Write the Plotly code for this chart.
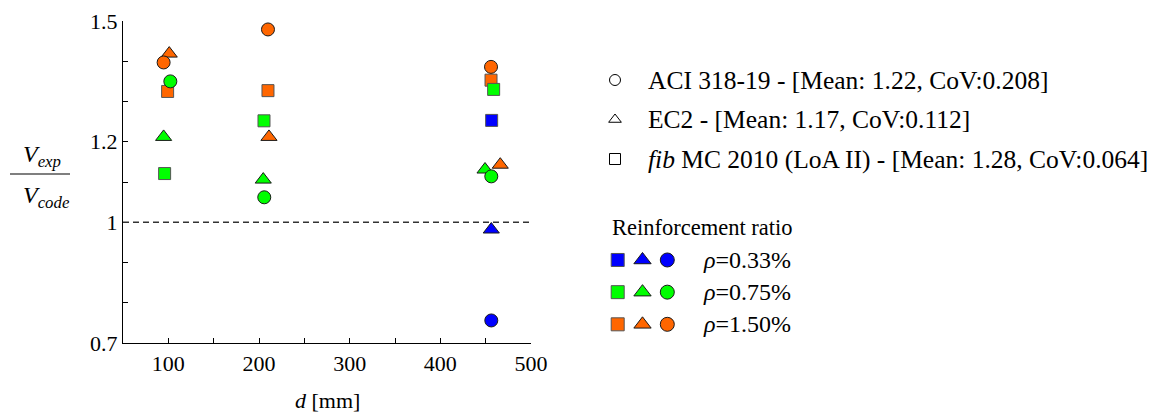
import plotly.graph_objects as go

# ---------------- data ----------------
ratio_labels = ["ρ=0.33%", "ρ=0.75%", "ρ=1.50%"]
ratio_texts = ["<i>ρ</i>=0.33%", "<i>ρ</i>=0.75%", "<i>ρ</i>=1.50%"]
ratio_colors = {"ρ=0.33%": "#0000FF", "ρ=0.75%": "#00FF00", "ρ=1.50%": "#FF6600"}

aci_d = [94.8, 102.2, 209.9, 205.8, 455.9, 456.2, 456.2]
aci_v = [1.397, 1.350, 1.479, 1.062, 1.386, 1.114, 0.756]
aci_r = ["ρ=1.50%", "ρ=0.75%", "ρ=1.50%", "ρ=0.75%", "ρ=1.50%", "ρ=0.75%", "ρ=0.33%"]

ec2_d = [101.0, 94.8, 211.0, 204.7, 466.1, 449.3, 456.2]
ec2_v = [1.419, 1.212, 1.212, 1.106, 1.143, 1.131, 0.982]
ec2_r = ["ρ=1.50%", "ρ=0.75%", "ρ=1.50%", "ρ=0.75%", "ρ=1.50%", "ρ=0.75%", "ρ=0.33%"]

fib_d = [99.2, 95.9, 209.9, 205.5, 455.9, 458.8, 456.6]
fib_v = [1.325, 1.121, 1.327, 1.252, 1.353, 1.330, 1.253]
fib_r = ["ρ=1.50%", "ρ=0.75%", "ρ=1.50%", "ρ=0.75%", "ρ=1.50%", "ρ=0.75%", "ρ=0.33%"]

code_names = ["ACI 318-19 - [Mean: 1.22, CoV:0.208]",
              "EC2 - [Mean: 1.17, CoV:0.112]",
              "<i>fib</i> MC 2010 (LoA II) - [Mean: 1.28, CoV:0.064]"]
code_keys = ["ACI", "EC2", "fib"]
code_symbols = {"ACI": "circle", "EC2": "triangle-up", "fib": "square"}

x_ticks = [50, 100, 150, 200, 250, 300, 350, 400, 450, 500]
x_ticktext = ["", "100", "", "200", "", "300", "", "400", "", "500"]
y_ticks = [0.7, 0.8, 0.9, 1.0, 1.1, 1.2, 1.3, 1.4, 1.5]
y_ticktext = ["0.7", "", "", "1", "", "1.2", "", "", "1.5"]

FONT = "Liberation Serif"
OFF = 8                      # page offset of the plot div
W, H = 1160 - OFF, 412 - OFF
ML, MR, MT, MB = 123 - OFF, 10, 21 - OFF, 69
PW, PH = W - ML - MR, H - MT - MB
PAGE_LEFT, PAGE_BOTTOM = 123, 343


def px_x(p):
    return (p - PAGE_LEFT) / PW


def px_y(p):
    return (PAGE_BOTTOM - p) / PH


sizes = {"circle": 13, "triangle-up": 14, "square": 12}
lines = {"circle": "#1a1a1a", "triangle-up": "#1a1a1a", "square": "#555555"}

fig = go.Figure()

for key, d, v, r in [("fib", fib_d, fib_v, fib_r),
                     ("EC2", ec2_d, ec2_v, ec2_r),
                     ("ACI", aci_d, aci_v, aci_r)]:
    sym = code_symbols[key]
    fig.add_trace(go.Scatter(
        x=d, y=v, mode="markers", showlegend=False,
        marker=dict(symbol=sym, size=sizes[sym],
                    color=[ratio_colors[k] for k in r],
                    line=dict(color=lines[sym], width=1)),
        xaxis="x", yaxis="y"))

# legend key: codes (hollow symbols)
fig.add_trace(go.Scatter(
    x=["key"] * 3, y=code_keys, mode="markers", showlegend=False,
    marker=dict(symbol=[code_symbols[k] for k in code_keys], size=11,
                color="white", line=dict(color="black", width=1)),
    xaxis="x3", yaxis="y3"))

# legend key: reinforcement ratio grid
for k in ["fib", "EC2", "ACI"]:
    sym = code_symbols[k]
    fig.add_trace(go.Scatter(
        x=[k] * 3, y=ratio_labels, mode="markers", showlegend=False,
        marker=dict(symbol=sym, size=sizes[sym] + 1,
                    color=[ratio_colors[q] for q in ratio_labels],
                    line=dict(color=lines[sym], width=1)),
        xaxis="x2", yaxis="y2"))

axis_font = dict(family=FONT, size=22, color="black")

fig.update_layout(
    template="none",
    width=W, height=H, autosize=False,
    margin=dict(l=ML, r=MR, t=MT, b=MB, pad=0),
    paper_bgcolor="white", plot_bgcolor="white",
    font=dict(family=FONT, size=22, color="black"),
    xaxis=dict(domain=[0, 408 / PW], range=[50, 500], tickmode="array",
               tickvals=x_ticks, ticktext=x_ticktext, ticks="inside",
               ticklen=5, tickwidth=1.2, tickcolor="black", automargin=False,
               showline=True, linecolor="black", linewidth=1.3,
               showgrid=False, zeroline=False, tickfont=axis_font),
    yaxis=dict(domain=[0, 1], range=[0.7, 1.5], tickmode="array",
               tickvals=y_ticks, ticktext=y_ticktext, ticks="inside",
               ticklen=5, tickwidth=1.2, tickcolor="black", automargin=False,
               showline=True, linecolor="black", linewidth=1.3,
               showgrid=False, zeroline=False, tickfont=axis_font),
    xaxis2=dict(domain=[px_x(605.3), px_x(679.7)], anchor="y2",
                type="category", categoryorder="array", automargin=False,
                categoryarray=["fib", "EC2", "ACI"], range=[-0.5, 2.5],
                visible=False),
    yaxis2=dict(domain=[px_y(340.4), px_y(243.9)], anchor="x2",
                type="category", categoryorder="array", automargin=False,
                categoryarray=ratio_labels, range=[2.5, -0.5], visible=False),
    xaxis3=dict(domain=[px_x(605), px_x(625)], anchor="y3", automargin=False,
                type="category", range=[-0.5, 0.5], visible=False),
    yaxis3=dict(domain=[px_y(178.75), px_y(60.25)], anchor="x3",
                type="category", categoryorder="array", automargin=False,
                categoryarray=code_keys, range=[2.5, -0.5], visible=False),
)

# reference line at V_exp/V_code = 1
fig.add_shape(type="line", xref="x", yref="y", x0=50, x1=500, y0=1, y1=1,
              line=dict(color="#333333", width=1.3, dash="6px,4px"))

# x-axis title
fig.add_annotation(text="<i>d</i> [mm]", xref="x domain", yref="paper",
                   x=0.5, y=px_y(400), xanchor="center", yanchor="middle",
                   showarrow=False, font=axis_font)

# y-axis fraction title
fig.add_annotation(text="<i>V</i><sub><i>exp</i></sub>", xref="paper", yref="paper",
                   x=px_x(42), y=px_y(156), xanchor="center", yanchor="middle",
                   showarrow=False, font=dict(family=FONT, size=24, color="black"))
fig.add_annotation(text="<i>V</i><sub><i>code</i></sub>", xref="paper", yref="paper",
                   x=px_x(46), y=px_y(197), xanchor="center", yanchor="middle",
                   showarrow=False, font=dict(family=FONT, size=24, color="black"))
fig.add_shape(type="line", xref="paper", yref="paper",
              x0=px_x(10), x1=px_x(70), y0=px_y(174), y1=px_y(174),
              line=dict(color="#555555", width=1.3))

# legend texts
for k, name in zip(code_keys, code_names):
    fig.add_annotation(text=name, xref="paper", yref="y3", x=px_x(646), y=k,
                       xanchor="left", yanchor="middle", showarrow=False,
                       font=dict(family=FONT, size=25.5, color="black"))

fig.add_annotation(text="Reinforcement ratio", xref="paper", yref="paper",
                   x=px_x(610), y=px_y(227), xanchor="left", yanchor="middle",
                   showarrow=False, font=dict(family=FONT, size=22.5, color="black"))
for q, t in zip(ratio_labels, ratio_texts):
    fig.add_annotation(text=t, xref="paper", yref="y2",
                       x=px_x(701), y=q, xanchor="left", yanchor="middle",
                       showarrow=False, font=dict(family=FONT, size=24, color="black"))

fig.write_html("out.html")
